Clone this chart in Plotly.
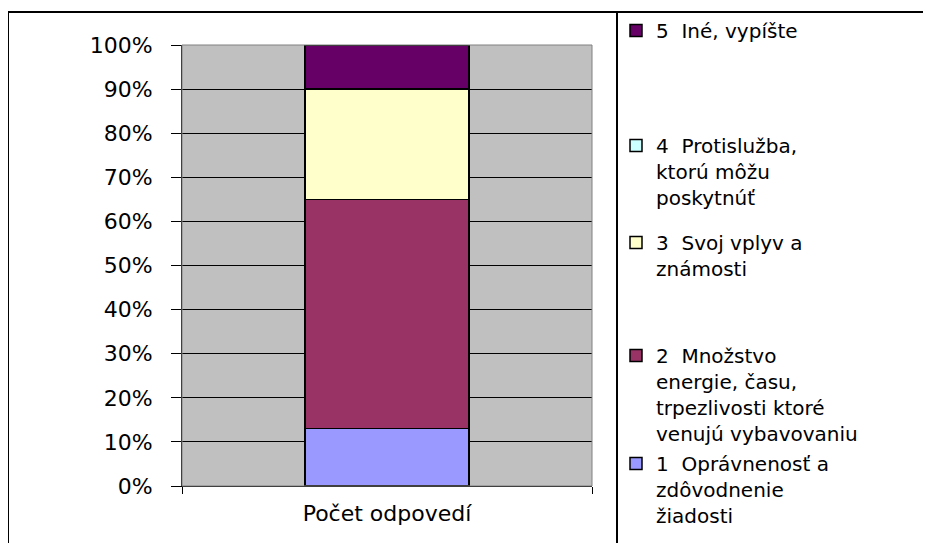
import plotly.graph_objects as go

# data
categories = ["Počet odpovedí"]
answer_labels = [
    "1  Oprávnenosť a<br>zdôvodnenie<br>žiadosti",
    "2  Množstvo<br>energie, času,<br>trpezlivosti ktoré<br>venujú vybavovaniu",
    "3  Svoj vplyv a<br>známosti",
    "4  Protislužba,<br>ktorú môžu<br>poskytnúť",
    "5  Iné, vypíšte",
]
answer_shares = [13, 52, 25, 0, 10]
answer_colors = ["#9999FF", "#993366", "#FFFFCC", "#CCFFFF", "#660066"]
tick_values = [0, 10, 20, 30, 40, 50, 60, 70, 80, 90, 100]
tick_labels = ["0%", "10%", "20%", "30%", "40%", "50%", "60%", "70%", "80%", "90%", "100%"]

# page is 931x543, the browser body adds an 8px margin on top/left
PAGE_W, PAGE_H, BODY = 931, 543, 8
W, H = PAGE_W - BODY, PAGE_H - BODY
# everything below is measured on the page, then shifted into the figure
PLOT_L, PLOT_R, PLOT_T, PLOT_B = 182 - BODY, 592 - BODY, 45 - BODY, 486 - BODY
FONT = "DejaVu Sans"

# first text line of each legend entry (page y), same order as the answers
legend_rows = [463, 355, 242, 145, 30]
legend_left = 616 - BODY


def px_x(x):
    return (x - BODY - PLOT_L) / (PLOT_R - PLOT_L)


def px_y(y):
    return (PLOT_B - (y - BODY)) / (PLOT_B - PLOT_T)


fig = go.Figure()
for i, (name, share, color) in enumerate(zip(answer_labels, answer_shares, answer_colors)):
    fig.add_trace(go.Bar(
        x=categories, y=[share], name=name,
        marker=dict(color=color, line=dict(color="black", width=1.5)),
        width=0.4,
        legend="legend" if i == 0 else f"legend{i + 1}",
    ))

legends = {}
for i, row in enumerate(legend_rows):
    key = "legend" if i == 0 else f"legend{i + 1}"
    legends[key] = dict(
        xref="container", yref="container",
        x=legend_left / W, y=1 - (row - BODY - 19) / H,
        xanchor="left", yanchor="top", valign="top",
        bgcolor="rgba(0,0,0,0)",
        font=dict(family=FONT, size=20, color="black"),
    )

fig.update_layout(
    barmode="stack",
    width=W, height=H,
    margin=dict(l=PLOT_L, r=W - PLOT_R, t=PLOT_T, b=H - PLOT_B),
    paper_bgcolor="white",
    plot_bgcolor="#C0C0C0",
    font=dict(family=FONT, size=22, color="black"),
    showlegend=True,
    **legends,
)

fig.update_yaxes(
    range=[0, 100], tickvals=tick_values, ticktext=tick_labels,
    showline=True, linecolor="black", linewidth=1,
    ticks="outside", ticklen=10, tickcolor="black",
    showgrid=True, gridcolor="black", gridwidth=1,
    zeroline=False, ticklabelstandoff=14,
)
fig.update_xaxes(
    showline=True, linecolor="black", linewidth=1,
    ticks="outside", tickson="boundaries", ticklen=7, tickcolor="black",
    showgrid=False, ticklabelstandoff=8,
)

# plot area frame, outer chart border and legend separator
fig.add_shape(type="rect", xref="paper", yref="paper", x0=0, x1=1, y0=0, y1=1,
              line=dict(color="#808080", width=1))
for x0, y0, x1, y1 in [(8, 12, PAGE_W + 5, 12), (8, 12, 8, PAGE_H + 5), (617, 12, 617, PAGE_H + 5)]:
    fig.add_shape(type="line", xref="paper", yref="paper",
                  x0=px_x(x0), x1=px_x(x1), y0=px_y(y0), y1=px_y(y1),
                  line=dict(color="black", width=2))

fig.write_html("out.html")
